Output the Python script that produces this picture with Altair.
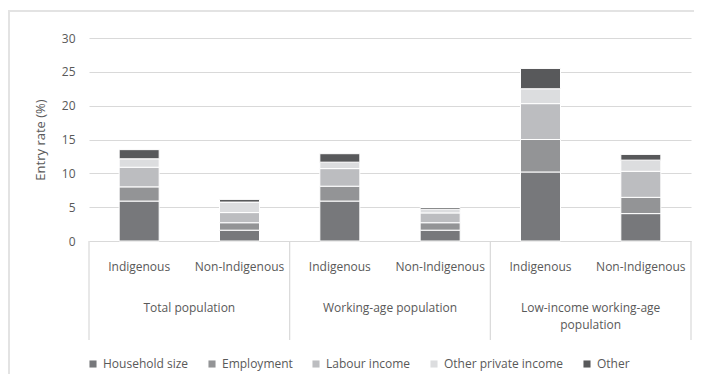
import altair as alt
import pandas as pd

groups = ["Total population", "Working-age population", "Low-income working-age population"]
subgroups = ["Indigenous", "Non-Indigenous"]
components = ["Household size", "Employment", "Labour income", "Other private income", "Other"]
colors = ["#77787b", "#939496", "#bcbdc0", "#dcdddf", "#58595b"]

household = [5.9, 1.6, 5.9, 1.6, 10.2, 4.05]
employment = [2.1, 1.1, 2.2, 1.1, 4.8, 2.4]
labour = [2.9, 1.5, 2.6, 1.45, 5.3, 3.85]
other_private = [1.25, 1.55, 0.95, 0.55, 2.2, 1.65]
other = [1.35, 0.4, 1.25, 0.25, 3.0, 0.85]

series = [household, employment, labour, other_private, other]

rows = []
for ci, (comp, vals) in enumerate(zip(components, series)):
    for bi, v in enumerate(vals):
        rows.append({"pos": bi + 0.5, "sub": subgroups[bi % 2], "group": groups[bi // 2],
                     "component": comp, "ord": ci, "value": v})
df = pd.DataFrame(rows)

sub_df = pd.DataFrame({"pos": [i + 0.5 for i in range(6)],
                       "label": [subgroups[i % 2] for i in range(6)]})
grp_df = pd.DataFrame({"pos": [1, 3, 5],
                       "label": ["Total population", "Working-age population",
                                 "Low-income working-age\npopulation"]})
sep_df = pd.DataFrame({"pos": [0, 2, 4, 6]})

FONT = "Open Sans"
TXT = "#595959"
GRID = "#d9d9d9"

xscale = alt.Scale(domain=[0, 6], nice=False, zero=False, padding=0)

bars = alt.Chart(df).mark_bar(size=40, stroke="white", strokeWidth=1).encode(
    x=alt.X("pos:Q", scale=xscale, axis=None),
    y=alt.Y("value:Q", stack="zero",
            scale=alt.Scale(domain=[0, 30], nice=False),
            axis=alt.Axis(values=[0, 5, 10, 15, 20, 25, 30], title="Entry rate (%)",
                          grid=True, gridColor=GRID, gridWidth=1.2, domain=False, ticks=False,
                          labelPadding=14, labelFont=FONT, labelFontSize=12, labelColor=TXT,
                          titleFont=FONT, titleFontSize=13, titleFontWeight="normal",
                          titleColor=TXT, titleX=-49, titleY=101.5, titleAngle=-90,
                          titleAlign="center", titleBaseline="middle")),
    color=alt.Color("component:N",
                    scale=alt.Scale(domain=components, range=colors),
                    sort=components,
                    legend=alt.Legend(orient="none", legendX=-2, legendY=320, direction="horizontal",
                                      title=None, symbolType="square", symbolSize=50,
                                      symbolStrokeWidth=0, columnPadding=17, labelOffset=4,
                                      labelFont=FONT, labelFontSize=12, labelColor=TXT,
                                      padding=0, columns=5)),
    order=alt.Order("ord:Q", sort="ascending"),
)

seps = alt.Chart(sep_df).mark_rule(color=GRID, strokeWidth=1.2).encode(
    x=alt.X("pos:Q", scale=xscale),
    y=alt.value(203),
    y2=alt.value(302),
)

sub_text = alt.Chart(sub_df).mark_text(font=FONT, fontSize=12, color=TXT, baseline="middle").encode(
    x=alt.X("pos:Q", scale=xscale),
    y=alt.value(229),
    text="label:N",
)

grp_text = alt.Chart(grp_df).mark_text(font=FONT, fontSize=12, color=TXT, baseline="middle",
                                       lineBreak="\n", lineHeight=17).encode(
    x=alt.X("pos:Q", scale=xscale),
    y=alt.value(270),
    text="label:N",
)

frame_top = alt.Chart(sep_df).mark_rule(color="#e3e3e3", strokeWidth=1.5).encode(
    x=alt.value(-81), x2=alt.value(610), y=alt.value(-27))
frame_left = alt.Chart(sep_df).mark_rule(color="#e3e3e3", strokeWidth=1.5).encode(
    x=alt.value(-80), y=alt.value(-27), y2=alt.value(340))

chart = alt.layer(frame_top, frame_left, bars, seps, sub_text, grp_text).properties(
    width=602, height=203,
    background="white",
    autosize=alt.AutoSizeParams(type="none"),
    padding={"left": 81, "top": 30, "right": 3, "bottom": 133},
).configure_view(strokeWidth=0)

chart.save("out.html", embed_options={"renderer": "svg", "actions": False})
